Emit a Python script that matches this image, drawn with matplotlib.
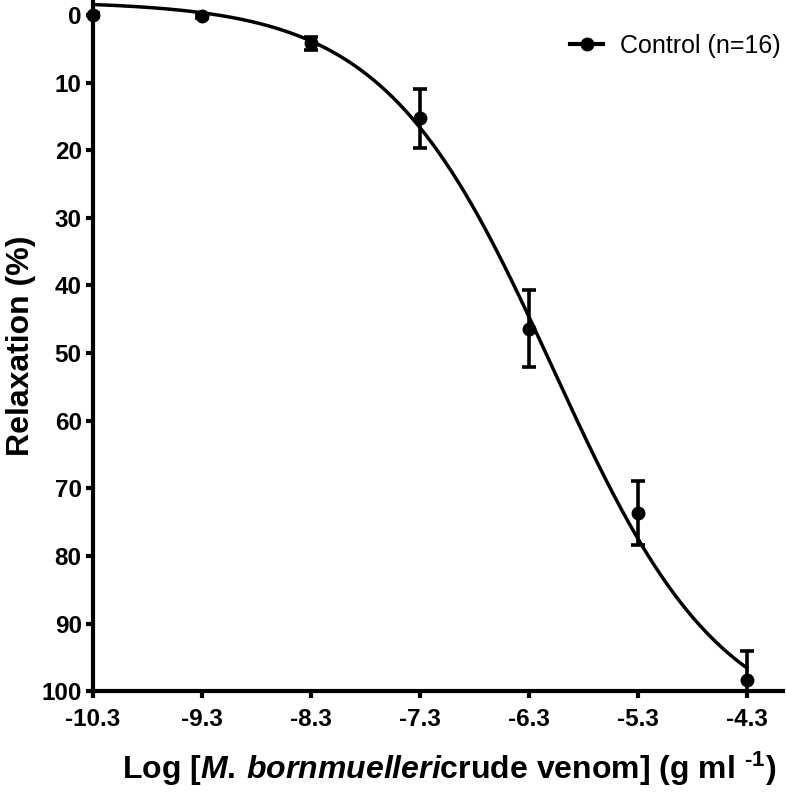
import numpy as np
import matplotlib
matplotlib.use("Agg")
import matplotlib.pyplot as plt

plt.rcParams['font.family'] = ['Liberation Sans', 'DejaVu Sans']
plt.rcParams['mathtext.fontset'] = 'custom'
plt.rcParams['mathtext.rm'] = 'Liberation Sans:bold'
plt.rcParams['mathtext.it'] = 'Liberation Sans:italic:bold'
plt.rcParams['mathtext.bf'] = 'Liberation Sans:bold'

# concentration-response data (mean +/- SEM)
log_conc = [-10.3, -9.3, -8.3, -7.3, -6.3, -5.3, -4.3]
relax_mean = [0.0, 0.2, 4.2, 15.3, 46.4, 73.7, 98.4]
relax_sem = [0.3, 0.3, 1.0, 4.4, 5.7, 4.7, 4.3]
x_ticks = [-10.3, -9.3, -8.3, -7.3, -6.3, -5.3, -4.3]
y_ticks = [0, 10, 20, 30, 40, 50, 60, 70, 80, 90, 100]
series_label = 'Control (n=16)'

# sigmoidal fit parameters (variable slope)
fit_bottom = -2.0
fit_top = 106.5
fit_logec50 = -6.08
fit_hill = 0.56


def sigmoid(x):
    return fit_bottom + (fit_top - fit_bottom) / (1 + 10 ** ((fit_logec50 - x) * fit_hill))


fig = plt.figure(figsize=(7.86, 7.99), dpi=100)
ax = fig.add_axes([0.118, 0.135, 0.878, 0.865])

xs = np.linspace(log_conc[0], log_conc[-1], 300)
ax.plot(xs, sigmoid(xs), color='black', lw=2.5, zorder=2)
ax.errorbar(log_conc, relax_mean, yerr=relax_sem, fmt='none', ecolor='black',
            elinewidth=2.6, capsize=4.7, capthick=2.6, zorder=3)
ax.plot(log_conc, relax_mean, 'o', color='black', ms=9, clip_on=False, zorder=4)

# legend proxy
ax.plot([], [], '-o', color='black', lw=3, ms=9, label=series_label)
leg = ax.legend(loc='upper right', bbox_to_anchor=(1.03, 0.983), frameon=False,
                fontsize=18, handlelength=1.3, handletextpad=0.7)

ax.set_xlim(-10.3, -3.97)
ax.set_ylim(100, -2.2)
ax.set_xticks(x_ticks)
ax.set_xticklabels([str(t) for t in x_ticks])
ax.set_yticks(y_ticks)

for side in ['top', 'right']:
    ax.spines[side].set_visible(False)
for side in ['left', 'bottom']:
    ax.spines[side].set_linewidth(3)

ax.tick_params(direction='out', length=5, width=3, labelsize=17.5)
ax.tick_params(axis='x', pad=7)
ax.tick_params(axis='y', pad=3)
for lab in ax.get_xticklabels() + ax.get_yticklabels():
    lab.set_fontweight('bold')

ax.set_ylabel('Relaxation (%)', fontsize=23, fontweight='bold', labelpad=4)
ax.set_xlabel(r'Log [$\mathit{M.\,bornmuelleri}$crude venom] (g ml $^{\text{-1}}$)',
              fontsize=23, fontweight='bold')
ax.xaxis.set_label_coords(0.517, -0.085)

fig.savefig('out.png', dpi=100)
